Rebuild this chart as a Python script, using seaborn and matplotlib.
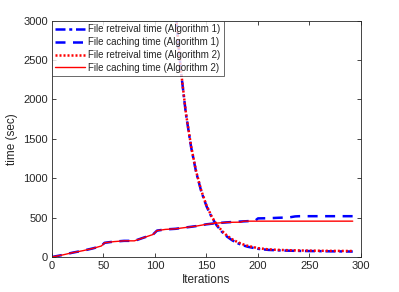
import matplotlib
matplotlib.use("Agg")
import matplotlib.pyplot as plt
import seaborn as sns
import pandas as pd

# Retrieval time (both algorithms decay together)
ret_x = [100, 110, 120, 125, 130, 135, 140, 145, 150, 155, 160, 165, 170, 175,
         180, 185, 190, 200, 210, 220, 230, 240, 250, 260, 270, 280, 292]
ret_alg1 = [9000, 5400, 3120, 2380, 1820, 1400, 1075, 830, 645, 505, 400, 320, 258, 212,
            176, 150, 130, 104, 90, 84, 80, 77, 75, 74, 72, 71, 69]
ret_alg2 = [9000, 5400, 3120, 2390, 1830, 1410, 1085, 840, 655, 515, 410, 332, 270, 225,
            190, 163, 142, 112, 97, 90, 86, 83, 81, 79, 78, 77, 76]

# Caching time
cache_x1 = [0, 10, 20, 30, 40, 48, 51, 60, 70, 80, 90, 98, 102, 110, 120, 130, 140,
            150, 160, 170, 180, 190, 197, 200, 210, 220, 230, 236, 240, 260, 280, 292]
cache_alg1 = [0, 25, 55, 80, 110, 140, 180, 195, 205, 205, 250, 285, 335, 350, 358, 375, 392,
              415, 430, 440, 448, 455, 458, 490, 492, 498, 502, 515, 518, 518, 518, 518]
cache_x2 = [0, 10, 20, 30, 40, 48, 51, 60, 70, 80, 90, 98, 102, 110, 120, 130, 140,
            150, 160, 170, 183, 186, 200, 220, 240, 260, 280, 292]
cache_alg2 = [0, 25, 55, 80, 110, 140, 180, 195, 205, 205, 250, 285, 335, 350, 358, 375, 392,
              415, 430, 440, 442, 455, 455, 455, 455, 455, 455, 455]

labels = ["File retreival time (Algorithm 1)", "File caching time (Algorithm 1)",
          "File retreival time (Algorithm 2)", "File caching time (Algorithm 2)"]

sns.set_style("white", {"xtick.bottom": True, "ytick.left": True,
                        "xtick.direction": "in", "ytick.direction": "in"})
plt.rcParams['font.family'] = ['Liberation Sans', 'DejaVu Sans']
plt.rcParams['xtick.major.size'] = 3
plt.rcParams['ytick.major.size'] = 3

fig = plt.figure(figsize=(3.99, 2.92), dpi=100)
ax = fig.add_axes([0.1303, 0.1199, 0.7744, 0.8092])

df1 = pd.DataFrame({"x": ret_x, "y": ret_alg1})
df2 = pd.DataFrame({"x": cache_x1, "y": cache_alg1})
df3 = pd.DataFrame({"x": ret_x, "y": ret_alg2})
df4 = pd.DataFrame({"x": cache_x2, "y": cache_alg2})

sns.lineplot(data=df1, x="x", y="y", ax=ax, color="#0000ff", lw=1.8, ls=(0, (4, 1.5, 1.2, 1.5)), label=labels[0])
sns.lineplot(data=df2, x="x", y="y", ax=ax, color="#0000ff", lw=1.8, ls=(0, (4, 3)), label=labels[1])
sns.lineplot(data=df3, x="x", y="y", ax=ax, color="#ff0000", lw=1.8, ls=(0, (0.8, 0.8)), label=labels[2])
sns.lineplot(data=df4, x="x", y="y", ax=ax, color="#ff0000", lw=1.0, ls="-", label=labels[3])

ax.set_xlim(0, 300)
ax.set_ylim(0, 3000)
ax.set_xticks([0, 50, 100, 150, 200, 250, 300])
ax.set_yticks([0, 500, 1000, 1500, 2000, 2500, 3000])
ax.set_xlabel("Iterations", fontsize=8.5, color="#262626", labelpad=2)
ax.set_ylabel("time (sec)", fontsize=8.5, color="#262626", labelpad=4)
ax.tick_params(direction="in", length=3, width=0.6, labelsize=8, colors="#262626",
               bottom=True, left=True, top=True, right=True, pad=3)
for s in ax.spines.values():
    s.set_color("#262626")
    s.set_linewidth(0.6)

leg = ax.legend(loc="upper left", fontsize=7.0, frameon=True, fancybox=False,
                borderpad=0.35, labelspacing=0.3, handlelength=3.0, handletextpad=0.35,
                borderaxespad=0.0)
leg.get_frame().set_edgecolor("#262626")
leg.get_frame().set_linewidth(0.6)

fig.savefig("out.png", dpi=100)
